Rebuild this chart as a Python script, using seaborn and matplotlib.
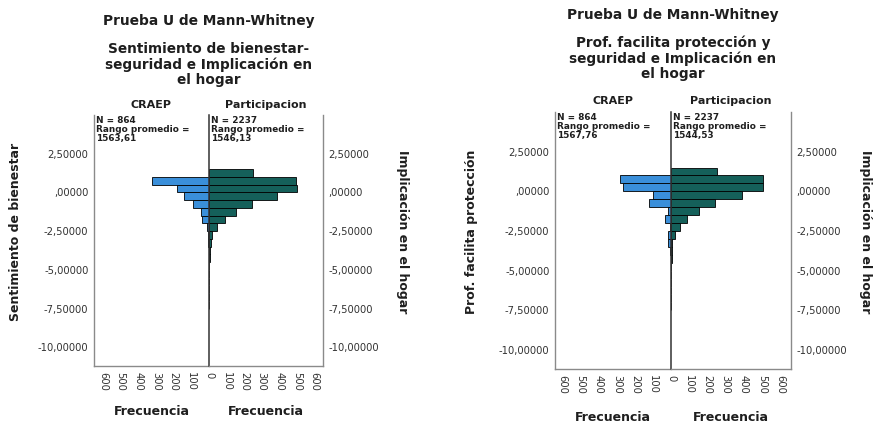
import numpy as np
import pandas as pd
import matplotlib
matplotlib.use("Agg")
import matplotlib.pyplot as plt
import seaborn as sns

# histogram bins (centres, width 0.5) shared by both charts
bin_mid = [1.25, 0.75, 0.25, -0.25, -0.75, -1.25, -1.75, -2.25, -2.75,
           -3.25, -3.75, -4.25, -4.75, -5.25, -5.75, -6.25, -6.75, -7.25]
bin_edges = [-7.5, -7.0, -6.5, -6.0, -5.5, -5.0, -4.5, -4.0, -3.5, -3.0,
             -2.5, -2.0, -1.5, -1.0, -0.5, 0.0, 0.5, 1.0, 1.5]

# chart 1: Sentimiento de bienestar-seguridad
craep_1 = [0, 324, 182, 140, 89, 48, 41, 13, 4, 3, 2, 1, 1, 0, 1, 0, 0, 0]
part_1 = [250, 497, 501, 388, 247, 154, 90, 47, 18, 9, 5, 3, 2, 1, 1, 0, 1, 0]
# chart 2: Prof. facilita proteccion y seguridad
craep_2 = [0, 284, 265, 102, 121, 18, 34, 6, 15, 16, 3, 2, 1, 1, 0, 0, 0, 0]
part_2 = [254, 507, 508, 392, 244, 156, 90, 47, 20, 7, 4, 3, 2, 1, 1, 1, 0, 0]

groups = ["CRAEP", "Participacion"]
n_1 = ["N = 864\nRango promedio =\n1563,61", "N = 2237\nRango promedio =\n1546,13"]
n_2 = ["N = 864\nRango promedio =\n1567,76", "N = 2237\nRango promedio =\n1544,53"]
titles = ["Sentimiento de bienestar-\nseguridad e Implicación en\nel hogar",
          "Prof. facilita protección y\nseguridad e Implicación en\nel hogar"]
ylabels = ["Sentimiento de bienestar", "Prof. facilita protección"]
ylabel_right = "Implicación en el hogar"
y_ticks = [2.5, 0.0, -2.5, -5.0, -7.5, -10.0]
y_ticklabels = ["2,50000", ",00000", "-2,50000", "-5,00000", "-7,50000", "-10,00000"]
x_ticks = [0, 100, 200, 300, 400, 500, 600]

BLUE = "#3a8fda"
TEAL = "#15605a"
FRAME = "#8a8a8a"
TXT = "#1e1e1e"

W, H = 887, 423
sns.set_style("white")
plt.rcParams['font.family'] = ['DejaVu Sans']

fig = plt.figure(figsize=(W / 100, H / 100), dpi=100)


def fx(px):
    return px / W


def fy(py):
    return 1 - py / H


def panel(x0, xc, x1, ytop, ybot, craep, part, notes, title, ylab,
          cx, title_y, grp_y, freq_y, ylab_x, ylab_r_x, xlim_l, xlim_r):
    bottom = fy(ybot)
    height = (ybot - ytop) / H
    axl = fig.add_axes([fx(x0), bottom, (xc - x0) / W, height])
    axr = fig.add_axes([fx(xc), bottom, (x1 - xc) / W, height])

    dl = pd.DataFrame({"v": bin_mid, "n": craep})
    dr = pd.DataFrame({"v": bin_mid, "n": part})
    sns.histplot(data=dl, y="v", weights="n", bins=bin_edges, color=BLUE,
                 alpha=1, edgecolor="black", linewidth=0.6, ax=axl)
    sns.histplot(data=dr, y="v", weights="n", bins=bin_edges, color=TEAL,
                 alpha=1, edgecolor="black", linewidth=0.6, ax=axr)

    for ax in (axl, axr):
        ax.set_ylim(-11.2, 5.0)
        ax.set_xlabel("")
        ax.set_ylabel("")
        ax.spines["top"].set_visible(False)
        for s in ax.spines.values():
            s.set_color(FRAME)
            s.set_linewidth(1.0)
        ax.tick_params(length=0, labelsize=7.2, labelcolor="#333333", pad=4)
        ax.set_yticks(y_ticks)
    axl.set_xlim(xlim_l, 0)
    axr.set_xlim(0, xlim_r)
    axl.spines["right"].set_visible(False)
    axr.spines["left"].set_color("#333333")
    axr.spines["left"].set_linewidth(1.1)

    axl.set_xticks(x_ticks[1:])
    axl.set_xticklabels([str(t) for t in x_ticks[1:]], rotation=-90)
    axr.set_xticks(x_ticks)
    axr.set_xticklabels([str(t) for t in x_ticks], rotation=-90)
    axl.set_yticklabels(y_ticklabels)
    axr.yaxis.tick_right()
    axr.set_yticklabels(y_ticklabels)

    # texts
    fig.text(fx(cx), fy(title_y[0]), "Prueba U de Mann-Whitney", ha="center",
             va="center", fontsize=9.9, fontweight="bold", color=TXT)
    fig.text(fx(cx), fy(title_y[1]), title, ha="center", va="top",
             fontsize=9.8, fontweight="bold", color=TXT, linespacing=1.1)
    for i, (xa, xb) in enumerate([(x0, xc), (xc, x1)]):
        fig.text(fx((xa + xb) / 2), fy(grp_y), groups[i], ha="center",
                 va="center", fontsize=8, fontweight="bold", color=TXT)
        fig.text(fx(xa + 2), fy(ytop + 1), notes[i], ha="left", va="top",
                 fontsize=6.4, fontweight="bold", color=TXT, linespacing=1.0)
        fig.text(fx((xa + xb) / 2), fy(freq_y), "Frecuencia", ha="center",
                 va="center", fontsize=9, fontweight="bold", color=TXT)
    fig.text(fx(ylab_x), (fy(ytop) + fy(ybot)) / 2 + 0.02, ylab, rotation=90,
             ha="center", va="center", fontsize=9, fontweight="bold", color=TXT)
    fig.text(fx(ylab_r_x), (fy(ytop) + fy(ybot)) / 2 + 0.02, ylabel_right,
             rotation=-90, ha="center", va="center", fontsize=9,
             fontweight="bold", color=TXT)


panel(94, 209, 323, 115, 366, craep_1, part_1, n_1, titles[0], ylabels[0],
      209, (21, 42), 105, 411, 16, 403, 650, 650)
panel(555, 671, 791, 112, 369, craep_2, part_2, n_2, titles[1], ylabels[1],
      673, (15, 36), 101, 417, 472, 866, 642, 660)

fig.savefig("out.png", dpi=100)
